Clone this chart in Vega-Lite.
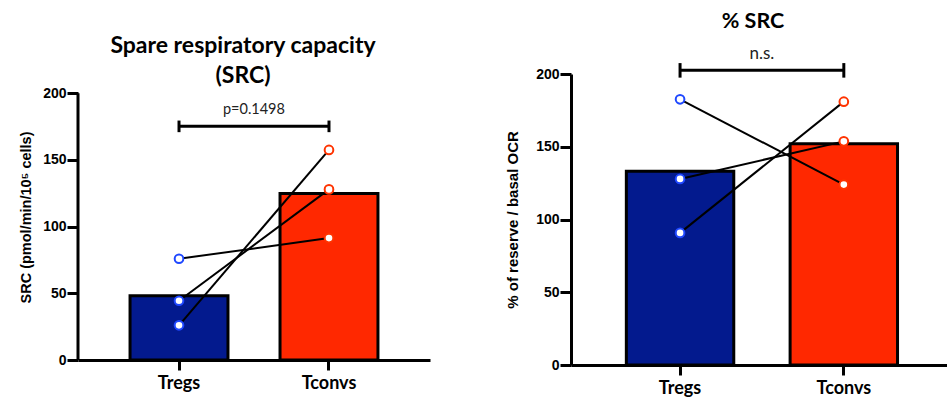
{
  "$schema": "https://vega.github.io/schema/vega-lite/v6.json",
  "background": "white",
  "padding": {"left": 18, "top": 10, "right": 0, "bottom": 0},
  "spacing": 75,
  "datasets": {
    "src_bars": [
      {"group": "Tregs", "value": 48.2},
      {"group": "Tconvs", "value": 124.9}
    ],
    "src_points": [
      {"group": "Tregs", "pair": "A", "value": 75.9},
      {"group": "Tregs", "pair": "B", "value": 44.4},
      {"group": "Tregs", "pair": "C", "value": 26.0},
      {"group": "Tconvs", "pair": "A", "value": 91.4},
      {"group": "Tconvs", "pair": "B", "value": 127.9},
      {"group": "Tconvs", "pair": "C", "value": 157.5}
    ],
    "src_stat": [
      {"from": "Tregs", "to": "Tconvs", "label": "p=0.1498", "y": 175.3, "ylo": 170.8, "yhi": 179.5, "ytext": 187.3}
    ],
    "pct_bars": [
      {"group": "Tregs", "value": 133.2},
      {"group": "Tconvs", "value": 152.0}
    ],
    "pct_points": [
      {"group": "Tregs", "pair": "A", "value": 182.6},
      {"group": "Tregs", "pair": "B", "value": 127.9},
      {"group": "Tregs", "pair": "C", "value": 90.8},
      {"group": "Tconvs", "pair": "A", "value": 124.0},
      {"group": "Tconvs", "pair": "B", "value": 153.7},
      {"group": "Tconvs", "pair": "C", "value": 181.0}
    ],
    "pct_stat": [
      {"from": "Tregs", "to": "Tconvs", "label": "n.s.", "y": 202.5, "ylo": 197.5, "yhi": 207.5, "ytext": 213.5}
    ]
  },
  "config": {
    "view": {"stroke": null},
    "axisX": {
      "grid": false, "domainColor": "black", "domainWidth": 3, "tickColor": "black", "tickWidth": 3, "tickSize": 10,
      "labelFont": "Lato", "labelFontWeight": "bold", "labelFontSize": 18, "labelColor": "black", "labelPadding": 4, "labelAngle": 0,
      "title": null
    }
  },
  "hconcat": [
    {
      "width": 352,
      "height": 286,
      "title": {"text": ["Spare respiratory capacity", "(SRC)"], "font": "Lato", "fontSize": 23, "fontWeight": "bold", "lineHeight": 30, "color": "black", "frame": "group", "offset": -14, "dx": -11, "anchor": "middle"},
      "layer": [
        {
          "data": {"name": "src_bars"},
          "mark": {"type": "bar", "stroke": "black", "strokeWidth": 3},
          "encoding": {
            "x": {"field": "group", "type": "nominal", "scale": {"domain": ["Tregs", "Tconvs"], "paddingInner": 0.347, "paddingOuter": 0.347}},
            "y": {"field": "value", "type": "quantitative", "scale": {"domain": [0, 214.4], "nice": false},
              "axis": {"title": "SRC (pmol/min/10⁵ cells)", "titlePadding": 9, "values": [0, 50, 100, 150, 200], "grid": false, "domain": false,
                "tickColor": "black", "tickWidth": 3, "tickSize": 11,
                "labelFont": "Liberation Sans", "labelFontWeight": "bold", "labelFontSize": 14, "labelColor": "black", "labelPadding": 1,
                "titleFont": "Liberation Sans", "titleFontWeight": "bold", "titleFontSize": 14.5, "titleColor": "black"}},
            "fill": {"field": "group", "type": "nominal", "scale": {"domain": ["Tregs", "Tconvs"], "range": ["#031A8E", "#FF2800"]}, "legend": null}
          }
        },
        {
          "data": {"name": "src_stat"},
          "mark": {"type": "rule", "color": "black", "strokeWidth": 3},
          "encoding": {
            "x": {"datum": "Tregs", "type": "nominal", "bandPosition": -0.5314},
            "y": {"datum": 0, "type": "quantitative"},
            "y2": {"datum": 200}
          }
        },
        {
          "data": {"name": "src_points"},
          "mark": {"type": "line", "color": "black", "strokeWidth": 2},
          "encoding": {
            "x": {"field": "group", "type": "nominal", "scale": {"domain": ["Tregs", "Tconvs"]}},
            "y": {"field": "value", "type": "quantitative"},
            "detail": {"field": "pair"}
          }
        },
        {
          "data": {"name": "src_points"},
          "mark": {"type": "point", "shape": "circle", "filled": false, "fill": "white", "fillOpacity": 1, "strokeWidth": 2, "size": 75, "opacity": 1},
          "encoding": {
            "x": {"field": "group", "type": "nominal", "scale": {"domain": ["Tregs", "Tconvs"]}},
            "y": {"field": "value", "type": "quantitative"},
            "stroke": {"field": "group", "type": "nominal", "scale": {"domain": ["Tregs", "Tconvs"], "range": ["#1F48FF", "#FF3300"]}, "legend": null}
          }
        },
        {
          "data": {"name": "src_stat"},
          "mark": {"type": "rule", "color": "black", "strokeWidth": 3},
          "encoding": {
            "x": {"field": "from", "type": "nominal", "bandPosition": 0.5},
            "x2": {"field": "to", "bandPosition": 0.5},
            "y": {"field": "y", "type": "quantitative"}
          }
        },
        {
          "data": {"name": "src_stat"},
          "mark": {"type": "rule", "color": "black", "strokeWidth": 3},
          "encoding": {
            "x": {"field": "from", "type": "nominal", "bandPosition": 0.5},
            "y": {"field": "ylo", "type": "quantitative"},
            "y2": {"field": "yhi"}
          }
        },
        {
          "data": {"name": "src_stat"},
          "mark": {"type": "rule", "color": "black", "strokeWidth": 3},
          "encoding": {
            "x": {"field": "to", "type": "nominal", "bandPosition": 0.5},
            "y": {"field": "ylo", "type": "quantitative"},
            "y2": {"field": "yhi"}
          }
        },
        {
          "data": {"name": "src_stat"},
          "mark": {"type": "text", "font": "Lato", "fontSize": 14.5, "color": "#222222", "baseline": "middle", "align": "center"},
          "encoding": {
            "x": {"field": "from", "type": "nominal", "bandPosition": 1.265},
            "y": {"field": "ytext", "type": "quantitative"},
            "text": {"field": "label"}
          }
        }
      ]
    },
    {
      "width": 376,
      "height": 291,
      "title": {"text": "% SRC", "font": "Lato", "fontSize": 21.5, "fontWeight": "bold", "color": "black", "frame": "group", "offset": 13, "dx": -6, "anchor": "middle"},
      "layer": [
        {
          "data": {"name": "pct_bars"},
          "mark": {"type": "bar", "stroke": "black", "strokeWidth": 3},
          "encoding": {
            "x": {"field": "group", "type": "nominal", "scale": {"domain": ["Tregs", "Tconvs"], "paddingInner": 0.344, "paddingOuter": 0.32, "align": 0.528}},
            "y": {"field": "value", "type": "quantitative", "scale": {"domain": [0, 200], "nice": false},
              "axis": {"title": "% of reserve / basal OCR", "titlePadding": 15, "values": [0, 50, 100, 150, 200], "grid": false,
                "domainColor": "black", "domainWidth": 3, "tickColor": "black", "tickWidth": 3, "tickSize": 11,
                "labelFont": "Liberation Sans", "labelFontWeight": "bold", "labelFontSize": 14, "labelColor": "black", "labelPadding": 1,
                "titleFont": "Liberation Sans", "titleFontWeight": "bold", "titleFontSize": 15, "titleColor": "black"}},
            "fill": {"field": "group", "type": "nominal", "scale": {"domain": ["Tregs", "Tconvs"], "range": ["#031A8E", "#FF2800"]}, "legend": null}
          }
        },
        {
          "data": {"name": "pct_points"},
          "mark": {"type": "line", "color": "black", "strokeWidth": 2},
          "encoding": {
            "x": {"field": "group", "type": "nominal", "scale": {"domain": ["Tregs", "Tconvs"]}},
            "y": {"field": "value", "type": "quantitative"},
            "detail": {"field": "pair"}
          }
        },
        {
          "data": {"name": "pct_points"},
          "mark": {"type": "point", "shape": "circle", "filled": false, "fill": "white", "fillOpacity": 1, "strokeWidth": 2, "size": 75, "opacity": 1},
          "encoding": {
            "x": {"field": "group", "type": "nominal", "scale": {"domain": ["Tregs", "Tconvs"]}},
            "y": {"field": "value", "type": "quantitative"},
            "stroke": {"field": "group", "type": "nominal", "scale": {"domain": ["Tregs", "Tconvs"], "range": ["#1F48FF", "#FF3300"]}, "legend": null}
          }
        },
        {
          "data": {"name": "pct_stat"},
          "mark": {"type": "rule", "color": "black", "strokeWidth": 3},
          "encoding": {
            "x": {"field": "from", "type": "nominal", "bandPosition": 0.5},
            "x2": {"field": "to", "bandPosition": 0.5},
            "y": {"field": "y", "type": "quantitative"}
          }
        },
        {
          "data": {"name": "pct_stat"},
          "mark": {"type": "rule", "color": "black", "strokeWidth": 3},
          "encoding": {
            "x": {"field": "from", "type": "nominal", "bandPosition": 0.5},
            "y": {"field": "ylo", "type": "quantitative"},
            "y2": {"field": "yhi"}
          }
        },
        {
          "data": {"name": "pct_stat"},
          "mark": {"type": "rule", "color": "black", "strokeWidth": 3},
          "encoding": {
            "x": {"field": "to", "type": "nominal", "bandPosition": 0.5},
            "y": {"field": "ylo", "type": "quantitative"},
            "y2": {"field": "yhi"}
          }
        },
        {
          "data": {"name": "pct_stat"},
          "mark": {"type": "text", "font": "Lato", "fontSize": 17, "color": "#222222", "baseline": "middle", "align": "center"},
          "encoding": {
            "x": {"field": "from", "type": "nominal", "bandPosition": 1.262},
            "y": {"field": "ytext", "type": "quantitative"},
            "text": {"field": "label"}
          }
        }
      ]
    }
  ]
}
